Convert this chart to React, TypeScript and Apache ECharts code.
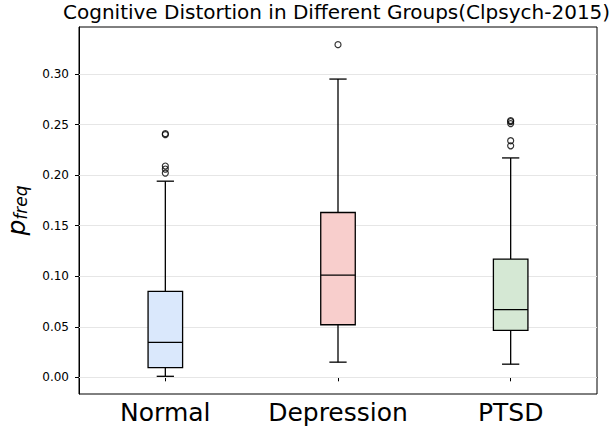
import React, { useEffect, useRef } from "react";
import * as echarts from "echarts";

const categories = ["Normal", "Depression", "PTSD"];
// [whiskerLow, q1, median, q3, whiskerHigh]
const normalStats = [0.001, 0.0095, 0.0345, 0.085, 0.194];
const depressionStats = [0.015, 0.052, 0.101, 0.163, 0.295];
const ptsdStats = [0.013, 0.0465, 0.067, 0.117, 0.217];
const normalOutliers = [0.241, 0.24, 0.209, 0.206, 0.202];
const depressionOutliers = [0.329];
const ptsdOutliers = [0.254, 0.253, 0.251, 0.234, 0.229];
const yTicks = [0, 0.05, 0.1, 0.15, 0.2, 0.25, 0.3];
const boxColors = ["#dae8fc", "#f8cecc", "#d5e8d4"];

export default function App() {
  const ref = useRef<HTMLDivElement>(null);
  useEffect(() => {
    document.body.style.margin = "0";
    const chart = echarts.init(ref.current!, null, { renderer: "svg" });
    const stats = [normalStats, depressionStats, ptsdStats];
    const outliers = [normalOutliers, depressionOutliers, ptsdOutliers];
    const boxData = stats.map((s, i) => [i, ...s]);
    const outlierData: any[] = [];
    outliers.forEach((arr, i) => arr.forEach((v) => outlierData.push([i, v])));
    const font = "DejaVu Sans";
    chart.setOption({
      animation: false,
      title: {
        text: "Cognitive Distortion in Different Groups(Clpsych-2015)",
        left: 63,
        top: 2,
        padding: 0,
        textStyle: { fontFamily: font, fontSize: 20, fontWeight: "normal", color: "#000" },
      },
      grid: {
        left: 79,
        right: 16,
        top: 27,
        bottom: 39,
        show: true,
        borderColor: "#000",
        borderWidth: 1,
        backgroundColor: "transparent",
        outerBoundsMode: "none",
        containLabel: false,
      },
      xAxis: {
        type: "category",
        data: categories,
        boundaryGap: true,
        axisLine: { show: true, lineStyle: { color: "#000", width: 1 } },
        axisTick: { show: true, alignWithLabel: true, length: 4, lineStyle: { color: "#000" } },
        axisLabel: { fontFamily: font, fontSize: 25, color: "#000", margin: 6, interval: 0 },
        splitLine: { show: false },
      },
      yAxis: {
        type: "value",
        min: -0.0165,
        max: 0.3465,
        name: "{p|p}{s|freq}",
        nameLocation: "middle",
        nameRotate: 90,
        nameGap: 50,
        nameTextStyle: {
          rich: {
            p: { fontFamily: font, fontStyle: "italic", fontSize: 25, color: "#000", lineHeight: 26, verticalAlign: "bottom" },
            s: { fontFamily: font, fontStyle: "italic", fontSize: 17, color: "#000", lineHeight: 16, verticalAlign: "bottom", padding: [8, 0, 0, 0] },
          },
        },
        axisLine: { show: true, lineStyle: { color: "#000", width: 1 } },
        axisTick: { show: true, length: 4, lineStyle: { color: "#000" }, customValues: yTicks },
        axisLabel: {
          fontFamily: font,
          fontSize: 12,
          color: "#000",
          margin: 10,
          customValues: yTicks,
          formatter: (v: number) => v.toFixed(2),
        },
        splitLine: { show: false },
      },
      series: [
        {
          type: "line",
          data: [],
          silent: true,
          markLine: {
            silent: true,
            symbol: "none",
            z: 1,
            label: { show: false },
            lineStyle: { color: "#e6e6e6", width: 1, type: "solid" },
            data: yTicks.map((v) => ({ yAxis: v })),
          },
        },
        {
          type: "custom",
          z: 3,
          data: boxData,
          encode: { x: 0, y: [1, 2, 3, 4, 5] },
          renderItem: (params: any, api: any) => {
            const i = api.value(0);
            const low = api.coord([i, api.value(1)]);
            const q1 = api.coord([i, api.value(2)]);
            const med = api.coord([i, api.value(3)]);
            const q3 = api.coord([i, api.value(4)]);
            const high = api.coord([i, api.value(5)]);
            const band = api.size([1, 0])[0];
            const bw = band * 0.2;
            const cw = bw / 2;
            const cx = low[0];
            const ls = { stroke: "#000", lineWidth: 1.3, fill: null };
            return {
              type: "group",
              children: [
                { type: "line", shape: { x1: cx, y1: q1[1], x2: cx, y2: low[1] }, style: ls },
                { type: "line", shape: { x1: cx, y1: q3[1], x2: cx, y2: high[1] }, style: ls },
                { type: "line", shape: { x1: cx - cw / 2, y1: low[1], x2: cx + cw / 2, y2: low[1] }, style: ls },
                { type: "line", shape: { x1: cx - cw / 2, y1: high[1], x2: cx + cw / 2, y2: high[1] }, style: ls },
                {
                  type: "rect",
                  shape: { x: cx - bw / 2, y: q3[1], width: bw, height: q1[1] - q3[1] },
                  style: { fill: boxColors[params.dataIndex], stroke: "#000", lineWidth: 1.3 },
                },
                { type: "line", shape: { x1: cx - bw / 2, y1: med[1], x2: cx + bw / 2, y2: med[1] }, style: ls },
              ],
            };
          },
        },
        {
          type: "scatter",
          z: 4,
          data: outlierData,
          symbol: "circle",
          symbolSize: 6,
          itemStyle: { color: "rgba(0,0,0,0)", borderColor: "#000", borderWidth: 1.2 },
        },
      ],
    });
    return () => chart.dispose();
  }, []);
  return <div ref={ref} style={{ width: 613, height: 433 }} />;
}
